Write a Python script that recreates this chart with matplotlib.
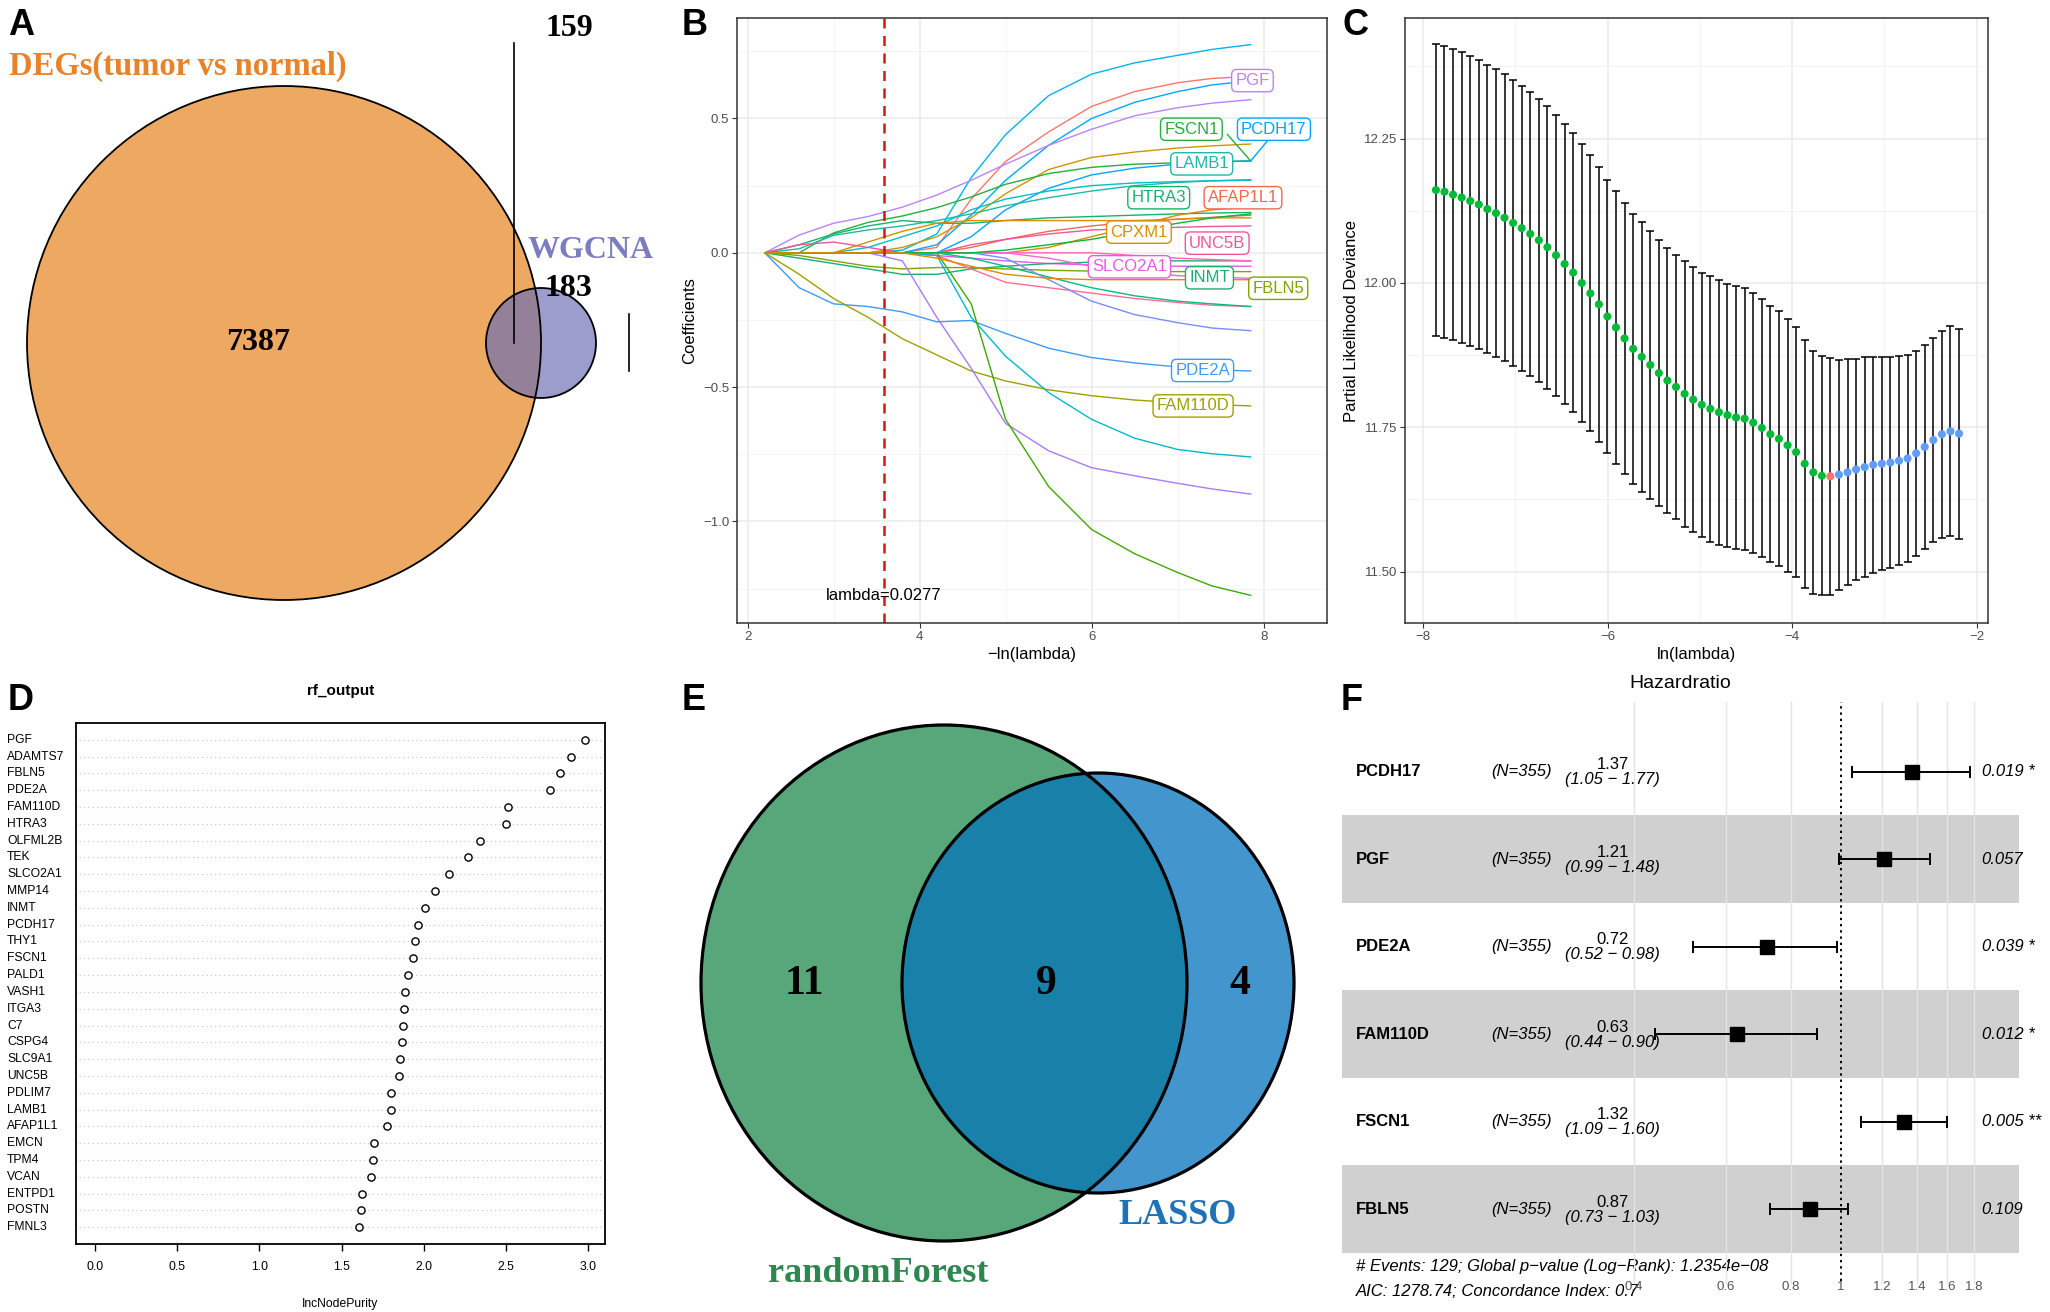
import numpy as np
import matplotlib
matplotlib.use("Agg")
import matplotlib.pyplot as plt
from matplotlib.patches import Circle, Ellipse
from matplotlib.ticker import NullLocator
import matplotlib.transforms as mtransforms

plt.rcParams['font.family'] = ['Liberation Sans', 'DejaVu Sans']
SERIF = ['Liberation Serif', 'DejaVu Serif']

W, H = 2050, 1312

# ---------------- data ----------------
# A: Venn DEGs vs WGCNA
venn_a_only_deg = 7387
venn_a_only_wgcna = 183
venn_a_shared = 159

# B: LASSO coefficient paths (x = -ln(lambda))
lasso_x = [2.2, 2.6, 3.0, 3.4, 3.8, 4.2, 4.6, 5.0, 5.5, 6.0, 6.5, 7.0, 7.4, 7.85]
lasso_paths = [
    [0, 0, 0, 0, 0.01, 0.07, 0.28, 0.44, 0.585, 0.665, 0.707, 0.735, 0.757, 0.775],
    [0, 0, 0, 0, 0, 0.02, 0.2, 0.34, 0.45, 0.545, 0.6, 0.633, 0.649, 0.657],
    [0, 0, 0, 0, 0, 0.03, 0.14, 0.27, 0.4, 0.5, 0.56, 0.6, 0.625, 0.64],
    [0, 0.066, 0.11, 0.135, 0.17, 0.215, 0.27, 0.33, 0.4, 0.46, 0.51, 0.54, 0.557, 0.57],
    [0, 0, 0, 0, 0.02, 0.06, 0.13, 0.22, 0.31, 0.355, 0.375, 0.39, 0.398, 0.405],
    [0, 0, 0.074, 0.113, 0.137, 0.168, 0.208, 0.255, 0.295, 0.318, 0.33, 0.335, 0.34, 0.342],
    [0, 0, 0, 0, 0, 0, 0.06, 0.16, 0.24, 0.29, 0.315, 0.33, 0.337, 0.342],
    [0, 0.015, 0.065, 0.085, 0.1, 0.12, 0.145, 0.175, 0.205, 0.23, 0.25, 0.262, 0.268, 0.272],
    [0, 0, 0, 0.02, 0.06, 0.1, 0.16, 0.2, 0.23, 0.25, 0.26, 0.265, 0.268, 0.27],
    [0, 0.03, 0.07, 0.1, 0.12, 0.11, 0.11, 0.12, 0.13, 0.135, 0.14, 0.145, 0.148, 0.15],
    [0, 0, 0, 0, 0, 0, 0.02, 0.05, 0.08, 0.1, 0.115, 0.125, 0.132, 0.14],
    [0, 0, 0, 0.04, 0.08, 0.11, 0.12, 0.12, 0.12, 0.12, 0.12, 0.125, 0.13, 0.13],
    [0, 0, 0, 0, 0, 0, 0, 0, 0.02, 0.06, 0.1, 0.14, 0.16, 0.17],
    [0, 0.03, 0.04, 0.02, 0, 0, 0.03, 0.05, 0.07, 0.085, 0.09, 0.095, 0.098, 0.1],
    [0, 0, 0, 0, 0, -0.01, -0.02, -0.03, -0.04, -0.045, -0.048, -0.05, -0.05, -0.05],
    [0, -0.02, -0.04, -0.06, -0.08, -0.08, -0.06, -0.05, -0.04, -0.035, -0.03, -0.03, -0.03, -0.03],
    [0, -0.01, -0.03, -0.05, -0.06, -0.055, -0.055, -0.06, -0.065, -0.068, -0.07, -0.07, -0.07, -0.07],
    [0, 0, 0, 0, 0, -0.01, -0.06, -0.11, -0.13, -0.15, -0.17, -0.185, -0.195, -0.2],
    [0, 0, 0, 0, 0, 0, -0.02, -0.05, -0.09, -0.13, -0.16, -0.18, -0.19, -0.2],
    [0, 0, 0, 0, 0, 0, 0, -0.02, -0.1, -0.18, -0.23, -0.26, -0.28, -0.29],
    [0, -0.13, -0.19, -0.2, -0.22, -0.257, -0.252, -0.3, -0.355, -0.39, -0.41, -0.425, -0.435, -0.44],
    [0, -0.08, -0.17, -0.24, -0.32, -0.38, -0.44, -0.477, -0.51, -0.532, -0.548, -0.558, -0.565, -0.57],
    [0, 0, 0, 0, 0, -0.01, -0.24, -0.385, -0.52, -0.62, -0.69, -0.732, -0.748, -0.76],
    [0, 0, 0, 0, -0.03, -0.24, -0.43, -0.635, -0.737, -0.8, -0.83, -0.858, -0.879, -0.898],
    [0, 0, 0, 0, 0, 0, -0.19, -0.62, -0.87, -1.03, -1.12, -1.19, -1.24, -1.275],
    [0, 0, 0, 0, 0, 0, 0, 0, 0, 0, -0.01, -0.02, -0.025, -0.03],
    [0, 0, 0, 0, 0, 0, 0, 0, -0.02, -0.05, -0.07, -0.085, -0.09, -0.095],
    [0, 0, 0, 0, 0, 0, 0, 0.01, 0.03, 0.05, 0.08, 0.11, 0.13, 0.145],
    [0, 0, 0, 0, 0, -0.02, -0.05, -0.08, -0.095, -0.1, -0.1, -0.1, -0.1, -0.1],
]
lasso_colors = ['#00B4EF', '#F8766D', '#00A9FF', '#B983FF', '#CD9600', '#24B03A',
                '#00A5FF', '#1FB8A8', '#00BFC4', '#13B36F', '#F0684F', '#D89000',
                '#E58700', '#F0559A', '#E85AE0', '#1AAE73', '#7CA500', '#FF6C91',
                '#00BF7D', '#7A8CFF', '#3D9BF7', '#9FA000', '#00B9CF', '#A77CF5',
                '#3DAA00', '#FF62BC', '#FD61D1', '#00BA38', '#E58700']
lasso_label_genes = ['PGF', 'FSCN1', 'PCDH17', 'LAMB1', 'HTRA3', 'AFAP1L1', 'CPXM1',
                     'UNC5B', 'SLCO2A1', 'INMT', 'FBLN5', 'PDE2A', 'FAM110D']
lasso_label_x = [7.87, 7.16, 8.12, 7.28, 6.78, 7.76, 6.55, 7.46, 6.44, 7.37, 8.17, 7.29, 7.18]
lasso_label_y = [0.641, 0.46, 0.46, 0.331, 0.205, 0.205, 0.077, 0.036, -0.052, -0.093,
                 -0.132, -0.438, -0.57]
lasso_label_colors = ['#B983FF', '#24B03A', '#00A5FF', '#1FB8A8', '#13B36F', '#F0684F',
                      '#D89000', '#F0559A', '#E85AE0', '#1AAE73', '#7CA500', '#3D9BF7',
                      '#9FA000']
lambda_min = 0.0277

# C: cross-validation curve
cv_lnlam = [-7.862, -7.769, -7.676, -7.583, -7.490, -7.397, -7.304, -7.211, -7.118, -7.025,
            -6.932, -6.839, -6.746, -6.653, -6.560, -6.467, -6.374, -6.281, -6.188, -6.095,
            -6.003, -5.910, -5.817, -5.724, -5.631, -5.538, -5.445, -5.352, -5.259, -5.166,
            -5.073, -4.980, -4.887, -4.794, -4.701, -4.608, -4.515, -4.422, -4.329, -4.236,
            -4.143, -4.050, -3.957, -3.864, -3.771, -3.678, -3.586, -3.493, -3.400, -3.307,
            -3.214, -3.121, -3.028, -2.935, -2.842, -2.749, -2.656, -2.563, -2.470, -2.377,
            -2.284, -2.191]
cv_dev = [12.161, 12.158, 12.153, 12.148, 12.142, 12.136, 12.128, 12.121, 12.113, 12.104,
          12.095, 12.085, 12.074, 12.062, 12.048, 12.033, 12.018, 12.000, 11.982, 11.963,
          11.942, 11.923, 11.904, 11.886, 11.872, 11.858, 11.844, 11.831, 11.820, 11.808,
          11.798, 11.789, 11.782, 11.776, 11.771, 11.767, 11.765, 11.758, 11.749, 11.738,
          11.730, 11.719, 11.707, 11.687, 11.672, 11.666, 11.665, 11.668, 11.672, 11.677,
          11.681, 11.685, 11.687, 11.689, 11.692, 11.696, 11.705, 11.716, 11.728, 11.738,
          11.743, 11.739]
cv_sd = [0.253, 0.253, 0.252, 0.252, 0.251, 0.250, 0.250, 0.250, 0.249, 0.247,
         0.247, 0.246, 0.245, 0.245, 0.243, 0.242, 0.242, 0.241, 0.239, 0.238,
         0.237, 0.236, 0.235, 0.234, 0.234, 0.232, 0.231, 0.230, 0.229, 0.230,
         0.229, 0.229, 0.230, 0.230, 0.228, 0.228, 0.227, 0.225, 0.223, 0.222,
         0.221, 0.219, 0.216, 0.215, 0.211, 0.207, 0.205, 0.199, 0.196, 0.192,
         0.190, 0.187, 0.184, 0.183, 0.181, 0.179, 0.178, 0.177, 0.177, 0.179,
         0.182, 0.182]

# D: random forest importance
rf_genes = ['PGF', 'ADAMTS7', 'FBLN5', 'PDE2A', 'FAM110D', 'HTRA3', 'OLFML2B', 'TEK',
            'SLCO2A1', 'MMP14', 'INMT', 'PCDH17', 'THY1', 'FSCN1', 'PALD1', 'VASH1',
            'ITGA3', 'C7', 'CSPG4', 'SLC9A1', 'UNC5B', 'PDLIM7', 'LAMB1', 'AFAP1L1',
            'EMCN', 'TPM4', 'VCAN', 'ENTPD1', 'POSTN', 'FMNL3']
rf_purity = [2.983, 2.894, 2.826, 2.768, 2.514, 2.498, 2.343, 2.268, 2.152, 2.070,
             2.010, 1.964, 1.944, 1.935, 1.906, 1.884, 1.882, 1.872, 1.870, 1.857,
             1.848, 1.802, 1.800, 1.773, 1.696, 1.693, 1.676, 1.623, 1.618, 1.606]

# E: Venn randomForest vs LASSO
venn_e_only_rf = 11
venn_e_shared = 9
venn_e_only_lasso = 4

# F: multivariate Cox forest plot
hr_genes = ['PCDH17', 'PGF', 'PDE2A', 'FAM110D', 'FSCN1', 'FBLN5']
hr_value = [1.37, 1.21, 0.72, 0.63, 1.32, 0.87]
hr_lower = [1.05, 0.99, 0.52, 0.44, 1.09, 0.73]
hr_upper = [1.77, 1.48, 0.98, 0.90, 1.60, 1.03]
hr_pval = ['0.019 *', '0.057', '0.039 *', '0.012 *', '0.005 **', '0.109']
hr_n = 355
hr_ticks = [0.4, 0.6, 0.8, 1, 1.2, 1.4, 1.6, 1.8]
hr_tick_labels = ['0.4', '0.6', '0.8', '1', '1.2', '1.4', '1.6', '1.8']


def box(l, t, r, b):
    return [l / W, 1 - b / H, (r - l) / W, (b - t) / H]


def gg_bw(ax, xmaj, xmin, ymaj, ymin):
    ax.set_xticks(xmaj)
    ax.set_xticks(xmin, minor=True)
    ax.set_yticks(ymaj)
    ax.set_yticks(ymin, minor=True)
    ax.grid(True, which='major', color='#EBEBEB', lw=1.1)
    ax.grid(True, which='minor', color='#F3F3F3', lw=0.6)
    ax.set_axisbelow(True)
    for s in ax.spines.values():
        s.set_color('#333333')
        s.set_linewidth(1.1)
    ax.tick_params(which='major', length=3.5, width=0.8, color='#333333',
                   labelsize=9.5, labelcolor='#4D4D4D', pad=2)
    ax.tick_params(which='minor', length=0)


fig = plt.figure(figsize=(W / 100, H / 100), dpi=100)

# overlay in pixel coordinates for venns and panel letters
ov = fig.add_axes([0, 0, 1, 1])
ov.set_xlim(0, W)
ov.set_ylim(H, 0)
ov.axis('off')

for lab, x, y in [('A', 8, 35), ('B', 682, 35), ('C', 1342, 35),
                  ('D', 8, 710), ('E', 682, 710), ('F', 1341, 710)]:
    ov.text(x, y, lab, fontsize=26, fontweight='bold', ha='left', va='baseline')

# ---- A ----
big = Circle((284, 343), 257, fc='#EDA862', ec='none')
ov.add_patch(big)
ov.add_patch(Circle((541, 343), 55, fc='#9C9CCD', ec='none'))
ovl = Circle((541, 343), 55, fc='#95809A', ec='none')
ov.add_patch(ovl)
ovl.set_clip_path(big)
ov.add_patch(Circle((284, 343), 257, fill=False, ec='black', lw=1.3))
ov.add_patch(Circle((541, 343), 55, fill=False, ec='black', lw=1.3))
ov.plot([513.5, 513.5], [43, 343], color='black', lw=1.2)
ov.plot([628.6, 628.6], [314, 371], color='black', lw=1.2)
ov.text(9, 66, 'DEGs(tumor vs normal)', color='#E8832A', fontsize=23.5, fontweight='bold',
        family=SERIF, ha='left', va='center')
ov.text(527, 251, 'WGCNA', color='#7C7CC0', fontsize=23, fontweight='bold',
        family=SERIF, ha='left', va='center')
ov.text(258, 343, str(venn_a_only_deg), fontsize=23, fontweight='bold', family=SERIF,
        ha='center', va='center')
ov.text(569, 28, str(venn_a_shared), fontsize=23, fontweight='bold', family=SERIF,
        ha='center', va='center')
ov.text(568, 288, str(venn_a_only_wgcna), fontsize=23, fontweight='bold', family=SERIF,
        ha='center', va='center')

# ---- E ----
g = Ellipse((944, 983), 486, 516, fc='#58A77B', ec='none')
ov.add_patch(g)
ov.add_patch(Ellipse((1098, 983), 392, 420, fc='#4396CD', ec='none'))
eo = Ellipse((1098, 983), 392, 420, fc='#1980AA', ec='none')
ov.add_patch(eo)
eo.set_clip_path(g)
ov.add_patch(Ellipse((944, 983), 486, 516, fill=False, ec='black', lw=2.3))
ov.add_patch(Ellipse((1098, 983), 392, 420, fill=False, ec='black', lw=2.3))
for txt, x in [(venn_e_only_rf, 804), (venn_e_shared, 1046), (venn_e_only_lasso, 1240)]:
    ov.text(x, 984, str(txt), fontsize=30, fontweight='bold', family=SERIF,
            ha='center', va='center')
ov.text(1178, 1216, 'LASSO', color='#1F72B5', fontsize=26, fontweight='bold',
        family=SERIF, ha='center', va='center')
ov.text(878, 1274, 'randomForest', color='#2E8750', fontsize=26, fontweight='bold',
        family=SERIF, ha='center', va='center')

# ---- B ----
axB = fig.add_axes(box(737, 18, 1327, 623))
for ys, c in zip(lasso_paths, lasso_colors):
    axB.plot(lasso_x, ys, color=c, lw=1.0)
# connectors for repelled labels
axB.plot([7.58, 7.85], [0.44, 0.342], color='#24B03A', lw=1.0)
axB.plot([8.04, 7.85], [0.415, 0.342], color='#00A5FF', lw=1.0)
for g_, x, y, c in zip(lasso_label_genes, lasso_label_x, lasso_label_y, lasso_label_colors):
    axB.text(x, y, g_, color=c, fontsize=12, ha='center', va='center', zorder=5,
             bbox=dict(boxstyle='round,pad=0.22,rounding_size=0.3', fc='white', ec=c, lw=1.0))
xl = -np.log(lambda_min)
axB.axvline(xl, color='#CC1A1A', ls=(0, (4, 3)), lw=1.8)
axB.text(xl, -1.275, 'lambda=0.0277', fontsize=12, ha='center', va='center')
axB.set_xlim(1.877, 8.737)
axB.set_ylim(-1.378, 0.874)
gg_bw(axB, [2, 4, 6, 8], [3, 5, 7], [-1.0, -0.5, 0.0, 0.5], [-1.25, -0.75, -0.25, 0.25, 0.75])
axB.set_yticklabels(['\u22121.0', '\u22120.5', '0.0', '0.5'])
axB.set_xlabel('\u2212ln(lambda)', fontsize=12, labelpad=3)
axB.set_ylabel('Coefficients', fontsize=12, labelpad=4)

# ---- C ----
axC = fig.add_axes(box(1405, 18, 1988, 623))
imin = int(np.argmin(cv_dev))
pcols = ['#00BA38' if i < imin else ('#F8766D' if i == imin else '#619CFF')
         for i in range(len(cv_dev))]
axC.errorbar(cv_lnlam, cv_dev, yerr=cv_sd, fmt='none', ecolor='black', elinewidth=1.1,
             capsize=3, capthick=1.1, zorder=2)
axC.scatter(cv_lnlam, cv_dev, c=pcols, s=34, zorder=3, linewidths=0)
axC.set_xlim(-8.197, -1.877)
axC.set_ylim(11.411, 12.459)
gg_bw(axC, [-8, -6, -4, -2], [-7, -5, -3], [11.5, 11.75, 12.0, 12.25],
      [11.625, 11.875, 12.125, 12.375])
axC.set_xticklabels(['\u22128', '\u22126', '\u22124', '\u22122'])
axC.set_yticklabels(['11.50', '11.75', '12.00', '12.25'])
axC.set_xlabel('ln(lambda)', fontsize=12, labelpad=3)
axC.set_ylabel('Partial Likelihood Deviance', fontsize=12, labelpad=4)

# ---- D ----
axD = fig.add_axes(box(75.5, 723, 605, 1244))
rows = np.arange(1, len(rf_genes) + 1)
for r in rows:
    axD.axhline(r, xmin=0.0075, xmax=0.9925, color='#C8C8C8', ls=(0, (1, 2.5)), lw=0.9, zorder=1)
axD.plot(rf_purity, rows, 'o', mfc='white', mec='black', ms=5.2, mew=1.0, zorder=3)
axD.set_xlim(-0.04 * max(rf_purity), 1.04 * max(rf_purity))
axD.set_ylim(len(rf_genes) + 1, 0)
axD.set_yticks([])
axD.set_xticks([0.0, 0.5, 1.0, 1.5, 2.0, 2.5, 3.0])
axD.set_xticklabels(['0.0', '0.5', '1.0', '1.5', '2.0', '2.5', '3.0'])
axD.tick_params(axis='x', length=5, width=1, labelsize=8.7, pad=7)
for s in axD.spines.values():
    s.set_linewidth(1.3)
tr = mtransforms.blended_transform_factory(axD.transAxes, axD.transData)
for gname, r in zip(rf_genes, rows):
    axD.text(-0.129, r, gname, transform=tr, fontsize=8.7, ha='left', va='center')
axD.set_title('rf_output', fontsize=11, fontweight='bold', pad=20)
axD.set_xlabel('IncNodePurity', fontsize=8.7, labelpad=18)

# ---- F ----
axF = fig.add_axes(box(1342, 702, 2019, 1253))
axF.set_xscale('log')
axF.set_xlim(0.110, 2.196)
axF.set_ylim(5.5, -0.797)
ks = np.arange(len(hr_genes))
for k in ks:
    if k % 2 == 1:
        axF.axhspan(k - 0.5, k + 0.5, color='#D0D0D0', lw=0, zorder=0)
for t in hr_ticks:
    if t != 1:
        axF.axvline(t, ymin=-0.055, ymax=1, color='#E4E4E4', lw=1.0, zorder=0.5,
                    clip_on=False)
axF.axvline(1, ymin=-0.05, ymax=1, color='black', ls=(0, (1.2, 2)), lw=1.4,
            clip_on=False, zorder=1)
hv = np.array(hr_value)
axF.errorbar(hv, ks, xerr=[hv - np.array(hr_lower), np.array(hr_upper) - hv], fmt='s',
             color='black', ms=10, capsize=4.5, elinewidth=1.4, capthick=1.4, zorder=3)
trF = mtransforms.blended_transform_factory(axF.transAxes, axF.transData)
for k, gname, v, lo, hi, p in zip(ks, hr_genes, hr_value, hr_lower, hr_upper, hr_pval):
    axF.text(0.0207, k, gname, transform=trF, fontsize=12, fontweight='bold',
             ha='left', va='center')
    axF.text(0.310, k, f'(N={hr_n})', transform=trF, fontsize=12, style='italic',
             ha='right', va='center')
    axF.text(0.400, k - 0.08, f'{v:.2f}', transform=trF, fontsize=12, ha='center', va='center')
    axF.text(0.400, k + 0.09, f'({lo:.2f} \u2212 {hi:.2f})', transform=trF, fontsize=12,
             style='italic', ha='center', va='center')
    axF.text(0.945, k, p, transform=trF, fontsize=12, style='italic', ha='left', va='center',
             clip_on=False)
axF.set_xticks(hr_ticks)
axF.set_xticklabels(hr_tick_labels)
axF.xaxis.set_minor_locator(NullLocator())
axF.tick_params(axis='x', length=0, pad=20, labelsize=9.5, labelcolor='#555555')
axF.set_yticks([])
for s in axF.spines.values():
    s.set_visible(False)
axF.patch.set_alpha(0)
ov.text(1680, 683, 'Hazardratio', fontsize=14, ha='center', va='center')
ov.text(1356, 1267, '# Events: 129; Global p\u2212value (Log\u2212Rank): 1.2354e\u221208',
        fontsize=12, style='italic', ha='left', va='center')
ov.text(1356, 1292, 'AIC: 1278.74; Concordance Index: 0.7', fontsize=12, style='italic',
        ha='left', va='center')

fig.savefig('out.png', dpi=100)
